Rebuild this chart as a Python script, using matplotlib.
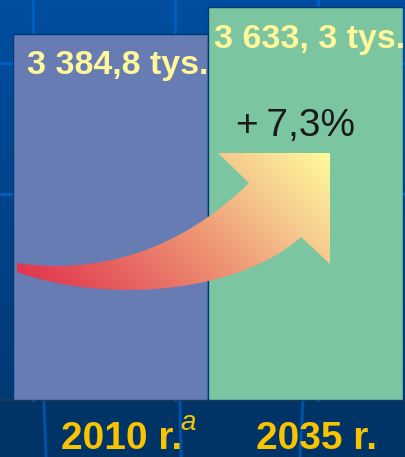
import numpy as np
import matplotlib.pyplot as plt
from matplotlib.path import Path
from matplotlib.patches import PathPatch
from matplotlib.colors import LinearSegmentedColormap, to_rgb

# data
years = ['2010 r.', '2035 r.']
values = [3384.8, 3633.3]
value_labels = ['3 384,8 tys.', '3 633, 3 tys.']
change_label = '+\u20097,3%'

bar_colors = ['#687cb4', '#7bc5a0']
text_yellow = '#fff799'
label_gold = '#f8c300'

W, H = 406, 457
fig = plt.figure(figsize=(W / 100, H / 100), dpi=100)

# background: blue slide with a faint grid
bg = fig.add_axes([0, 0, 1, 1])
bg.set_xlim(0, W)
bg.set_ylim(H, 0)
bg.axis('off')
top = np.array(to_rgb('#004ea0'))
low = np.array(to_rgb('#003a76'))
t = np.linspace(0, 1, 200)[:, None]
grad = top * (1 - t) + low * t
bg.imshow(grad[:, None, :], extent=[0, W, 400, 0], aspect='auto', zorder=0)
bg.fill_between([0, W], 400, H, color='#003366', zorder=0)
for x in [33, 175, 318]:
    bg.plot([x, x], [0, 400], color='#0060c2', lw=2.0, zorder=1)
for y in [63, 194]:
    bg.plot([0, W], [y, y], color='#0060c2', lw=2.0, zorder=1)
for x0, x1 in [(44, 46), (180, 181), (303, 300)]:
    bg.plot([x0, x1], [400, H], color='#0052a8', lw=2.2, zorder=1)
bg.plot([0, W], [400, 400], color='#263a55', lw=1.2, zorder=1)

# bars
ax = fig.add_axes([13 / W, 1 - 400 / H, 390 / W, 400 / H])
ax.patch.set_alpha(0)
ax.set_xlim(-0.5, 1.5)
ax.set_ylim(0, 3700)
ax.axis('off')
ax.bar(range(len(values)), values, width=1.0, color=bar_colors,
       edgecolor='#003a76', linewidth=1.0)

ax.text(0.035, 3095, value_labels[0], ha='center', va='center',
        fontsize=24.5, fontweight='bold', color=text_yellow,
        family='Liberation Sans')
ax.text(1.022, 3335, value_labels[1], ha='center', va='center',
        fontsize=24.5, fontweight='bold', color=text_yellow,
        family='Liberation Sans', clip_on=False)
ax.text(0.95, 2535, change_label, ha='center', va='center',
        fontsize=28, color='#1a1a1a', family=['Liberation Sans', 'DejaVu Sans'])

for i, lab in enumerate(years):
    txt = ax.text(i + 0.055, -0.143, lab, transform=ax.get_xaxis_transform(),
                  ha='center', va='bottom', fontsize=28, fontweight='bold',
                  color=label_gold, family='Liberation Sans', clip_on=False)
    if i == 0:
        ax.annotate('a', xy=(1, 0.6), xycoords=txt, xytext=(-1, 0),
                    textcoords='offset points', ha='left', va='bottom',
                    fontsize=20, style='italic', color=label_gold,
                    family='Liberation Sans')

# curved gradient arrow
deco = fig.add_axes([0, 0, 1, 1])
deco.set_xlim(0, W)
deco.set_ylim(H, 0)
deco.axis('off')
deco.patch.set_alpha(0)

verts = [(17, 263), (100, 275), (180, 250), (249, 183),
         (218, 153), (330, 153), (330, 264), (301, 237),
         (240, 292), (110, 305), (17, 272), (17, 263)]
codes = [Path.MOVETO, Path.CURVE4, Path.CURVE4, Path.CURVE4,
         Path.LINETO, Path.LINETO, Path.LINETO, Path.LINETO,
         Path.CURVE4, Path.CURVE4, Path.CURVE4, Path.CLOSEPOLY]
arrow = PathPatch(Path(verts, codes), facecolor='none', edgecolor='none')
deco.add_patch(arrow)

cmap = LinearSegmentedColormap.from_list(
    'arr', [(0, '#e0354f'), (0.5, '#ee9474'), (0.75, '#f6cb8e'), (1, '#fffa9c')])
xs = np.linspace(10, 335, 300)
ys = np.linspace(148, 310, 200)
XX, YY = np.meshgrid(xs, ys)
val = ((XX - 17) - (YY - 272)) / 432.0
img = deco.imshow(np.clip(val, 0, 1), cmap=cmap, vmin=0, vmax=1,
                  extent=[10, 335, 310, 148], aspect='auto', origin='upper',
                  interpolation='bilinear')
img.set_clip_path(arrow)
deco.set_xlim(0, W)
deco.set_ylim(H, 0)

fig.savefig('out.png', dpi=100)
